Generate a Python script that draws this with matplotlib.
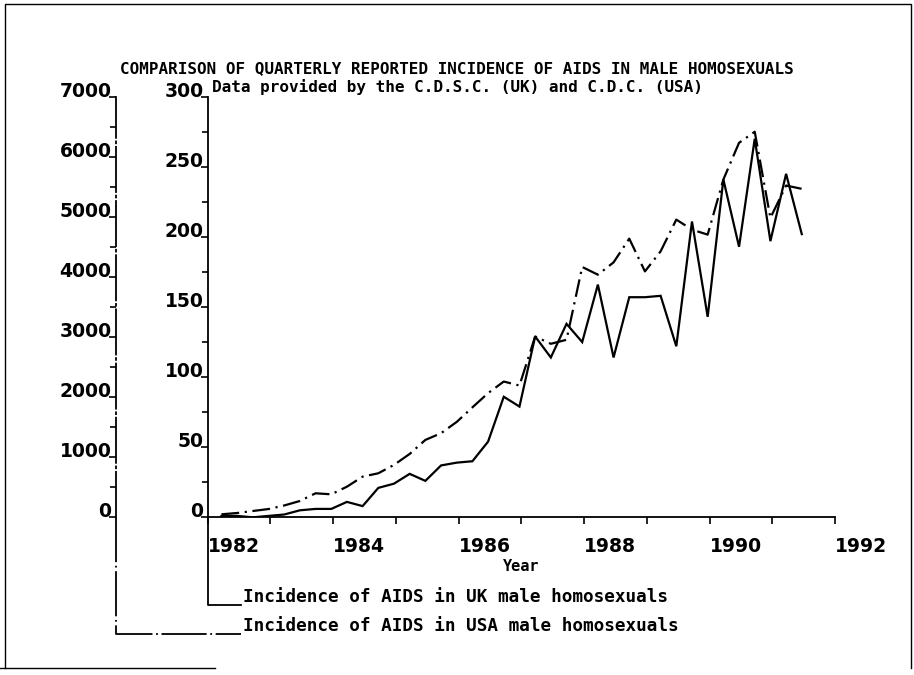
import numpy as np
import matplotlib
matplotlib.use('Agg')
import matplotlib.pyplot as plt
from matplotlib.lines import Line2D

# quarterly reported cases, 1982 Q1 .. 1991 Q2
uk_cases = [1, 1, 0, 1, 2, 5, 6, 6, 11, 8,
            21, 24, 31, 26, 37, 39, 40, 54, 86, 79,
            129, 114, 138, 125, 166, 114, 157, 157, 158, 122,
            211, 143, 241, 193, 270, 197, 245, 202]
usa_cases = [50, 72, 105, 138, 197, 272, 400, 383, 510, 677,
             733, 872, 1055, 1288, 1400, 1588, 1830, 2067, 2260, 2193,
             3010, 2888, 2955, 4167, 4038, 4243, 4638, 4093, 4427, 4955,
             4788, 4705, 5622, 6233, 6417, 4983, 5522, 5467]
first_quarter = 1982.22
quarters = first_quarter + 0.25 * np.arange(len(uk_cases))

uk_ticks = [0, 50, 100, 150, 200, 250, 300]
usa_ticks = [0, 1000, 2000, 3000, 4000, 5000, 6000, 7000]
year_ticks = [1982, 1984, 1986, 1988, 1990, 1992]

title = 'COMPARISON OF QUARTERLY REPORTED INCIDENCE OF AIDS IN MALE HOMOSEXUALS'
subtitle = 'Data provided by the C.D.S.C. (UK) and C.D.C. (USA)'
uk_label = 'Incidence of AIDS in UK male homosexuals'
usa_label = 'Incidence of AIDS in USA male homosexuals'

mono = 'DejaVu Sans Mono'
dashdot = (0, (8, 2.5, 1, 2.5))
long_dashdot = (0, (25, 2, 1, 2))
lw = 1.6

fig = plt.figure(figsize=(9.14, 6.75), dpi=100)
ax = fig.add_axes([0.2272, 0.2336, 0.6864, 0.6231])
ax2 = ax.twinx()

ax.plot(quarters, uk_cases, color='black', lw=lw, solid_joinstyle='miter')
ax2.plot(quarters, usa_cases, color='black', lw=lw, linestyle=dashdot)

ax.set_xlim(1982, 1992)
ax.set_ylim(0, 300)
ax2.set_ylim(0, 7000)

for s in ['top', 'right']:
    ax.spines[s].set_visible(False)
for s in ['top', 'right', 'bottom']:
    ax2.spines[s].set_visible(False)
for s in ['left', 'bottom']:
    ax.spines[s].set_linewidth(1.3)

outer_x = -0.1467
ax2.spines['left'].set_position(('axes', outer_x))
ax2.spines['left'].set_linewidth(1.3)
ax2.spines['left'].set_linestyle(long_dashdot)
ax2.yaxis.set_ticks_position('left')
ax2.yaxis.set_label_position('left')

tick_font = dict(family='DejaVu Sans', weight='bold', size=13.5)

ax.set_yticks(uk_ticks)
ax.set_yticklabels([str(v) for v in uk_ticks], va='baseline', **tick_font)
ax.set_yticks(np.arange(25, 300, 50), minor=True)
ax2.set_yticks(usa_ticks)
ax2.set_yticklabels([str(v) for v in usa_ticks], va='baseline', **tick_font)
ax2.set_yticks(np.arange(500, 7000, 1000), minor=True)
ax.set_xticks(year_ticks)
ax.set_xticklabels([str(v) for v in year_ticks], ha='left', **tick_font)
ax.set_xticks(np.arange(1983, 1992, 2), minor=True)

for a in (ax, ax2):
    a.tick_params(axis='y', which='major', direction='out', length=5, width=1.2, pad=-2)
    a.tick_params(axis='y', which='minor', direction='out', length=4, width=1.2)
ax.tick_params(axis='x', which='both', direction='out', length=5, width=1.2, pad=9)

ax.text(0.5, -0.118, 'Year', transform=ax.transAxes, ha='center', va='center',
        family=mono, weight='bold', fontsize=11)

# axes run down into the key
uk_y = -0.2085
usa_y = -0.2775
key_end = 0.053
ax.add_line(Line2D([0, 0, key_end], [0, uk_y, uk_y], transform=ax.transAxes,
                   color='black', lw=1.3, clip_on=False))
ax.add_line(Line2D([outer_x, outer_x, key_end], [0, usa_y, usa_y], transform=ax.transAxes,
                   color='black', lw=1.3, linestyle=long_dashdot, clip_on=False))
ax.text(key_end + 0.004, uk_y + 0.008, uk_label, transform=ax.transAxes, ha='left', va='baseline',
        family=mono, weight='bold', fontsize=12.7)
ax.text(key_end + 0.004, usa_y + 0.008, usa_label, transform=ax.transAxes, ha='left', va='baseline',
        family=mono, weight='bold', fontsize=12.7)

fig.text(0.5, 1 - 69 / 675, title, ha='center', va='center', family=mono, weight='bold', fontsize=11.5)
fig.text(0.5, 1 - 87 / 675, subtitle, ha='center', va='center', family=mono, weight='bold', fontsize=11.5)

# page frame from the scan
fig.add_artist(Line2D([5 / 914, 5 / 914, 911 / 914, 911 / 914], [1 - 668 / 675, 1 - 4 / 675, 1 - 4 / 675, 1 - 668 / 675],
                      transform=fig.transFigure, color='black', lw=1))
fig.add_artist(Line2D([0, 215 / 914], [1 - 668 / 675, 1 - 668 / 675],
                      transform=fig.transFigure, color='black', lw=1))

fig.savefig('out.png', dpi=100)
